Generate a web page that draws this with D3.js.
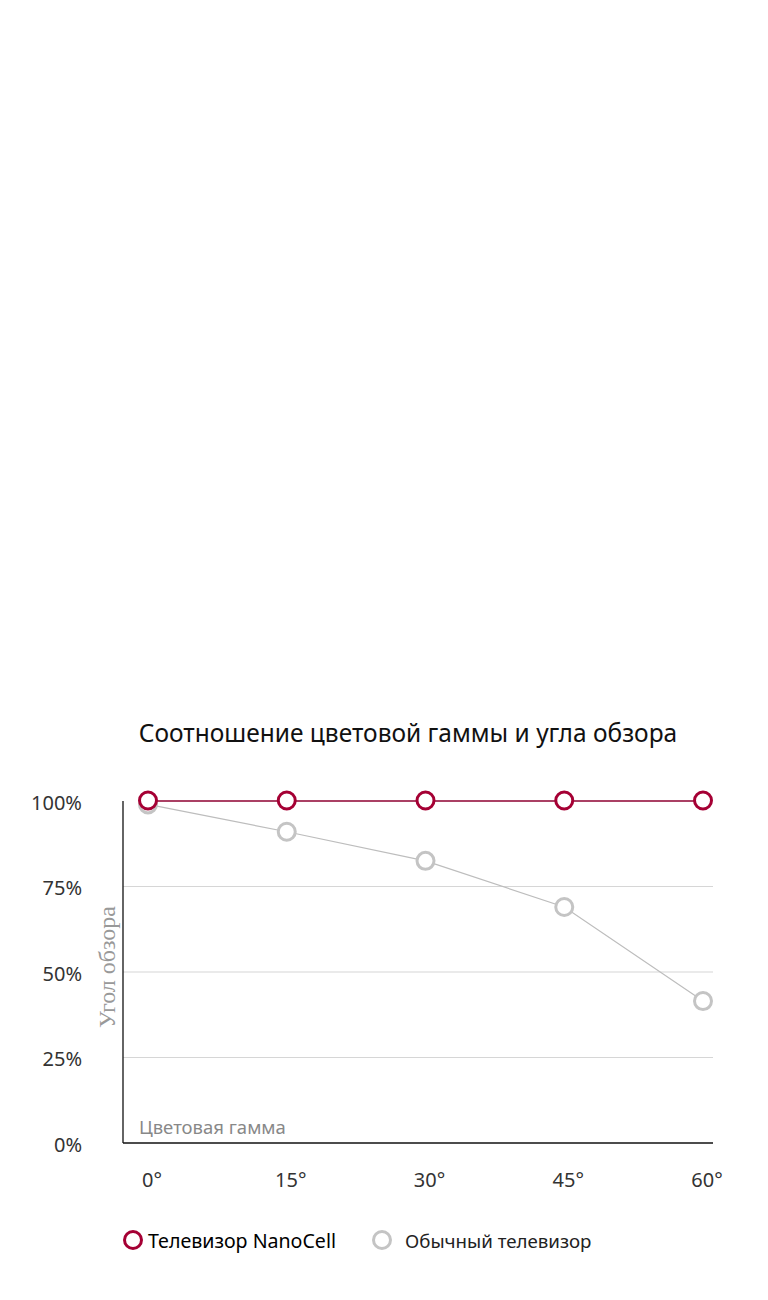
<!DOCTYPE html>
<html>
<head>
<meta charset="utf-8">
<script src="https://cdn.jsdelivr.net/npm/d3@7/dist/d3.min.js"></script>
<style>
html,body{margin:0;padding:0;background:#fff;}
svg{display:block;}
</style>
</head>
<body>
<svg id="chart" width="768" height="1300"></svg>
<script>
const angles = ["0°", "15°", "30°", "45°", "60°"];
const nanoCell = [100, 100, 100, 100, 100];
const regularTv = [99, 91, 82.5, 69, 41.5];
const yTicks = [0, 25, 50, 75, 100];
const yTickLabels = ["0%", "25%", "50%", "75%", "100%"];
const seriesNames = ["Телевизор NanoCell", "Обычный телевизор"];
const titleText = "Соотношение цветовой гаммы и угла обзора";
const yAxisTitle = "Угол обзора";
const xAxisTitle = "Цветовая гамма";

(function () {
const maroon = "#a50034";
const grayMark = "#c4c4c4";
const font = "Noto Sans, Open Sans, sans-serif";

const svg = d3.select("#chart");
const pLeft = 123, pRight = 713, pTop = 801, pBottom = 1143;

const x = d3.scalePoint().domain(angles).range([148, 703]);
const y = d3.scaleLinear().domain([0, 100]).range([pBottom, pTop]);

// title
svg.append("text").attr("x", 408).attr("y", 742)
  .attr("text-anchor", "middle").attr("font-family", font)
  .attr("font-size", 24.5).attr("fill", "#111").text(titleText);

// gridlines
svg.append("g").selectAll("line").data(yTicks.filter(d => d > 0 && d < 100)).join("line")
  .attr("x1", pLeft).attr("x2", pRight)
  .attr("y1", d => y(d)).attr("y2", d => y(d))
  .attr("stroke", "#d6d6d6").attr("stroke-width", 1.2);

// axis lines
svg.append("line").attr("x1", pLeft).attr("x2", pLeft).attr("y1", pTop).attr("y2", pBottom)
  .attr("stroke", "#111").attr("stroke-width", 1.3);
svg.append("line").attr("x1", pLeft).attr("x2", pRight).attr("y1", pBottom).attr("y2", pBottom)
  .attr("stroke", "#111").attr("stroke-width", 1.3);

// y tick labels
svg.append("g").selectAll("text").data(yTicks).join("text")
  .attr("x", 82).attr("y", d => y(d) + 8.5)
  .attr("text-anchor", "end").attr("font-family", font).attr("font-size", 20)
  .attr("fill", "#333").text((d, i) => yTickLabels[i]);

// x tick labels
svg.append("g").selectAll("text").data(angles).join("text")
  .attr("x", d => x(d) + 4).attr("y", 1187)
  .attr("text-anchor", "middle").attr("font-family", font).attr("font-size", 20)
  .attr("fill", "#333").text(d => d);

// axis titles
svg.append("text").attr("transform", "translate(115,967) rotate(-90)")
  .attr("text-anchor", "middle").attr("font-family", "Liberation Serif, serif")
  .attr("font-size", 24).attr("fill", "#999").text(yAxisTitle);
svg.append("text").attr("x", 139).attr("y", 1134)
  .attr("font-family", font).attr("font-size", 18.5).attr("fill", "#888").text(xAxisTitle);

const line = d3.line().x((d, i) => x(angles[i])).y(d => y(d));

// regular tv
svg.append("path").datum(regularTv).attr("d", line)
  .attr("fill", "none").attr("stroke", "#bdbdbd").attr("stroke-width", 1.2);
svg.append("g").selectAll("circle").data(regularTv).join("circle")
  .attr("cx", (d, i) => x(angles[i])).attr("cy", d => y(d)).attr("r", 8.5)
  .attr("fill", "#fff").attr("stroke", grayMark).attr("stroke-width", 3);

// nanocell
svg.append("path").datum(nanoCell).attr("d", line)
  .attr("fill", "none").attr("stroke", "#8e0030").attr("stroke-width", 1.6);
svg.append("g").selectAll("circle").data(nanoCell).join("circle")
  .attr("cx", (d, i) => x(angles[i])).attr("cy", d => y(d) - 0.5).attr("r", 8.5)
  .attr("fill", "#fff").attr("stroke", maroon).attr("stroke-width", 3);

// legend
const legend = svg.append("g");
legend.append("circle").attr("cx", 133).attr("cy", 1240).attr("r", 8.5)
  .attr("fill", "#fff").attr("stroke", maroon).attr("stroke-width", 3);
legend.append("text").attr("x", 148).attr("y", 1247.5).attr("font-family", font)
  .attr("font-size", 19.6).attr("fill", "#000").text(seriesNames[0]);
legend.append("circle").attr("cx", 382).attr("cy", 1240).attr("r", 8.5)
  .attr("fill", "#fff").attr("stroke", grayMark).attr("stroke-width", 3);
legend.append("text").attr("x", 405).attr("y", 1247.5).attr("font-family", font)
  .attr("font-size", 18.7).attr("fill", "#222").text(seriesNames[1]);
})();
</script>
</body>
</html>
